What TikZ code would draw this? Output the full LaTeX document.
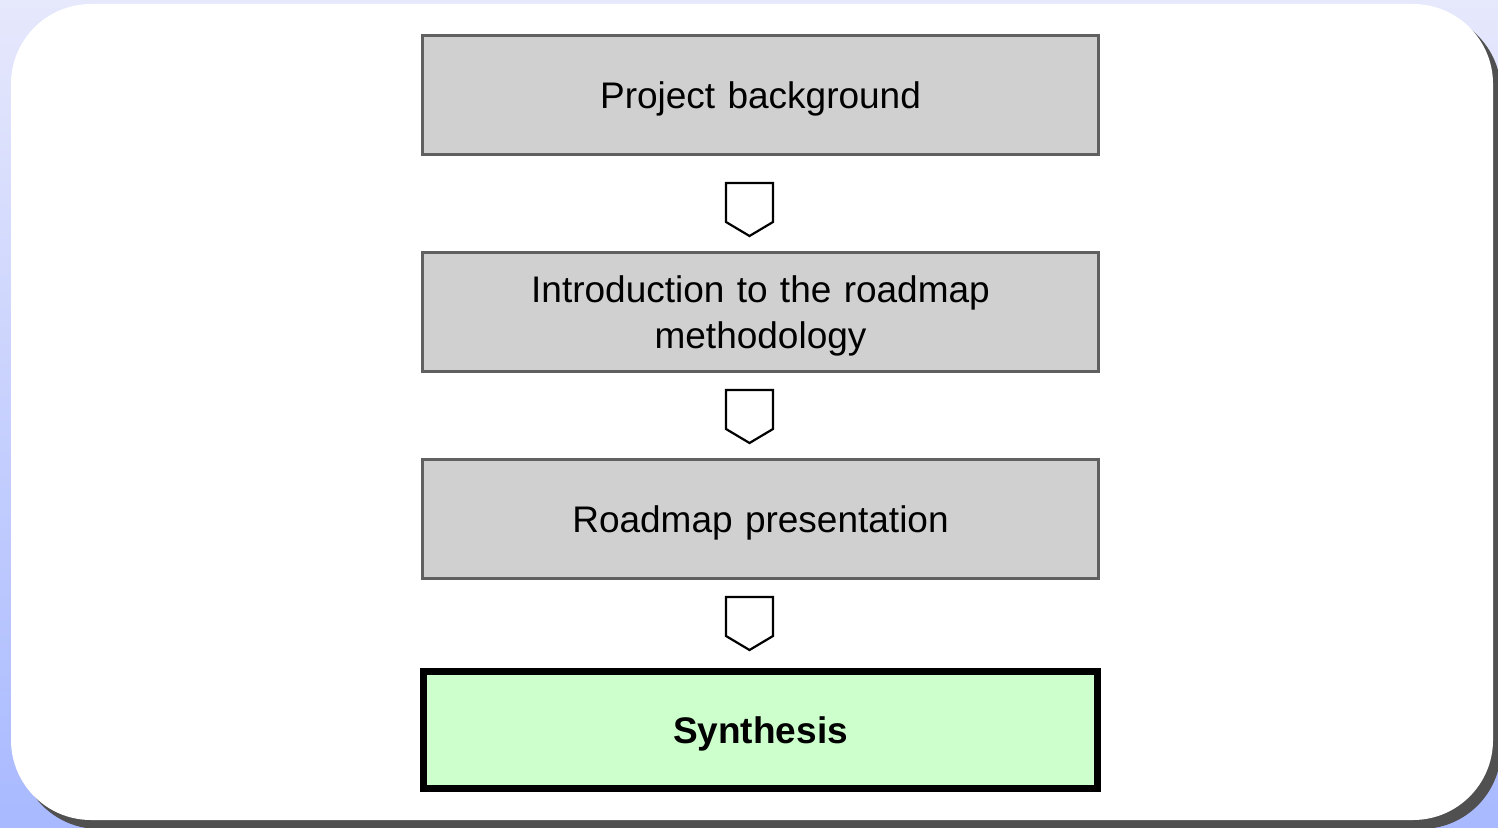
\documentclass[tikz,border=0pt]{standalone}
\usepackage{fontspec}
\setmainfont{Liberation Sans}
\usetikzlibrary{calc}
\definecolor{bgtop}{HTML}{E6E8FC}
\definecolor{bgbot}{HTML}{A8B9FF}
\definecolor{shadowgray}{HTML}{505050}
\definecolor{boxgray}{HTML}{D0D0D0}
\definecolor{boxline}{HTML}{606060}
\definecolor{synthgreen}{HTML}{CCFFCC}
\tikzset{
  stepbox/.style={draw=boxline, fill=boxgray, line width=1.5pt, rectangle,
    minimum width=338pt, minimum height=59.5pt, inner sep=0pt},
  finalbox/.style={draw=black, fill=synthgreen, line width=3.5pt, rectangle,
    minimum width=337pt, minimum height=58.5pt, inner sep=0pt},
  steptext/.style={inner sep=0pt, font=\fontsize{18.5}{23}\selectfont,
    align=center, text width=330pt},
  finaltext/.style={steptext, font=\fontsize{18.5}{23}\selectfont\bfseries},
  flowarrow/.pic={\draw[line width=1.1pt, fill=white, line join=miter]
     (-23.5,0) -- (23.5,0) -- (23.5,39) -- (0,53) -- (-23.5,39) -- cycle;}
}
\begin{document}
\begin{tikzpicture}[x=0.5pt,y=-0.5pt]
\useasboundingbox (0,0) rectangle (1498,828);
\begin{scope}
\clip (0,0) rectangle (1498,828);
\shade[top color=bgtop, bottom color=bgbot] (0,0) rectangle (1498,828);
\fill[shadowgray, rounded corners=40] (19,12) rectangle (1501,829);
\fill[white, rounded corners=40] (11,4) rectangle (1493,820);
\end{scope}
\node[stepbox] (b1) at (760.5,95) {};
\node[stepbox] (b2) at (760.5,312) {};
\node[stepbox] (b3) at (760.5,518.5) {};
\node[finalbox] (b4) at (760.5,730) {};
\node[steptext] (t1) at ($(b1.center)+(0,4)$) {Project background};
\node[steptext] (t2) at ($(b2.center)+(0,4)$) {Introduction to the roadmap\\methodology};
\node[steptext] (t3) at ($(b3.center)+(0,4)$) {Roadmap presentation};
\node[finaltext] (t4) at ($(b4.center)+(0,4)$) {Synthesis};
\coordinate (a1) at (749.5,183);
\coordinate (a2) at (749.5,390);
\coordinate (a3) at (749.5,597);
\pic at (a1) {flowarrow};
\pic at (a2) {flowarrow};
\pic at (a3) {flowarrow};
\end{tikzpicture}
\end{document}
